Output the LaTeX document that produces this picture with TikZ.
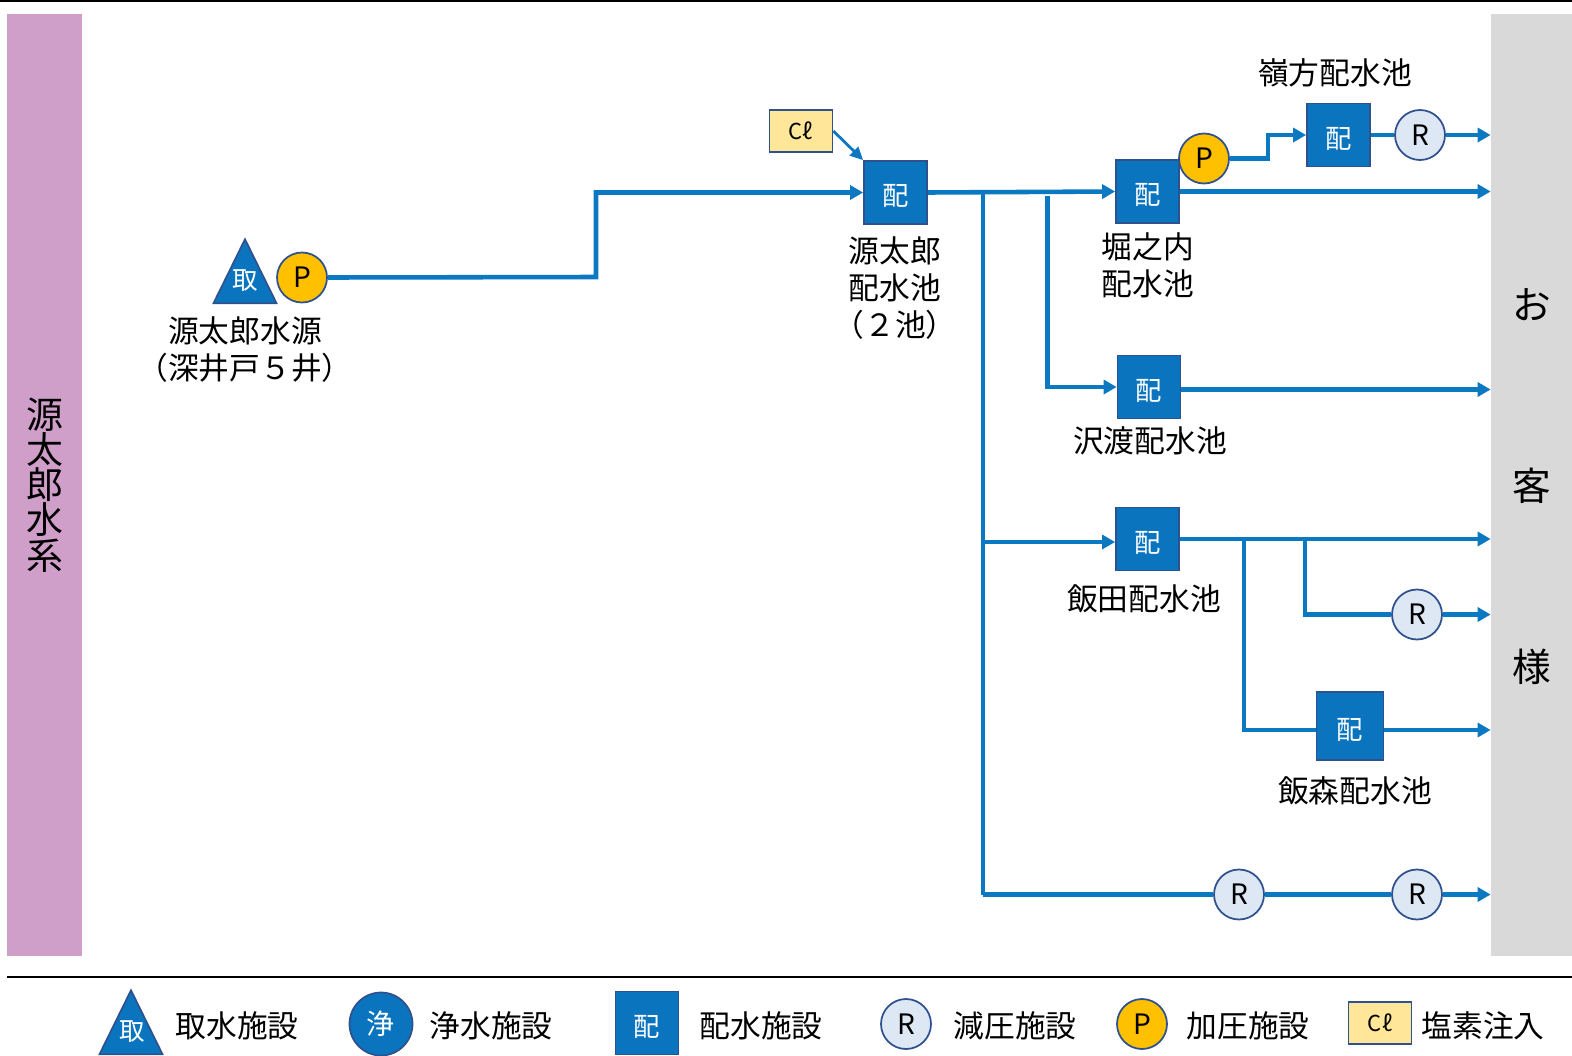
\documentclass[tikz,border=0pt]{standalone}
\usepackage{fontspec}
\setmainfont{Noto Sans CJK JP}
\usetikzlibrary{arrows.meta, positioning, shapes.geometric}

\definecolor{pipeblue}{HTML}{0B78C2}
\definecolor{boxblue}{HTML}{0A75BE}
\definecolor{edgeblue}{HTML}{2F528F}
\definecolor{bandpink}{HTML}{CF9FC9}
\definecolor{bandgray}{HTML}{D9D9D9}
\definecolor{pumpyellow}{HTML}{FFC000}
\definecolor{valveblue}{HTML}{DEE8F5}
\definecolor{chlorine}{HTML}{FFE699}
\setlength{\lineskiplimit}{-10pt}

\begin{document}
\begin{tikzpicture}[
    x=0.02cm, y=-0.02cm,
    pipe/.style={draw=pipeblue, line width=2.6pt},
    flow/.style={pipe, -{Triangle[length=0.26cm, width=0.28cm]}},
    dist node/.style={rectangle, draw=edgeblue, line width=1pt, fill=boxblue, text=white, minimum size=1.26cm, inner sep=0pt, text height=16pt, text depth=1pt, font=\fontsize{15}{15}\selectfont},
    pump node/.style={circle, draw=edgeblue, line width=1pt, fill=pumpyellow, minimum size=1cm, inner sep=0pt, font=\fontsize{16}{16}\selectfont},
    valve node/.style={circle, draw=edgeblue, line width=1pt, fill=valveblue, minimum size=1cm, inner sep=0pt, font=\fontsize{16}{16}\selectfont},
    clean node/.style={circle, draw=edgeblue, line width=1pt, fill=boxblue, text=white, minimum size=1.26cm, inner sep=0pt, font=\fontsize{16}{16}\selectfont},
    cl node/.style={rectangle, draw=edgeblue, line width=1pt, fill=chlorine, minimum width=1.26cm, minimum height=0.84cm, inner sep=0pt, font=\fontsize{12.5}{12.5}\selectfont},
    intake node/.style={isosceles triangle, isosceles triangle stretches, shape border rotate=90, draw=edgeblue, line width=1pt, fill=boxblue, minimum width=1.26cm, minimum height=1.28cm, inner sep=0pt},
    intake text/.style={text=white, inner sep=0pt, font=\fontsize{14.5}{14.5}\selectfont},
    name text/.style={inner sep=0pt, align=center, font=\fontsize{17.5}{21}\selectfont},
    cust text/.style={inner sep=0pt, font=\fontsize{22}{22}\selectfont}
]
    \useasboundingbox (0,0) rectangle (1572,1055);

    % Bands and rules
    \draw[line width=1pt] (0,1) -- (1572,1);
    \draw[line width=1pt] (7,977) -- (1572,977);
    \node[fill=bandpink, minimum width=1.5cm, minimum height=18.83cm, inner sep=0pt, align=center, font=\fontsize{21}{20}\selectfont] (system) at (44.5,485) {源\\太\\郎\\水\\系};
    \node[fill=bandgray, minimum width=1.62cm, minimum height=18.83cm, inner sep=0pt] (cust) at (1531.5,485) {};
    \node[cust text] (cust1) at (1532,305) {お};
    \node[cust text] (cust2) at (1532,486) {客};
    \node[cust text] (cust3) at (1532,667) {様};

    % Source
    \node[intake node, anchor=apex] (intake) at (245,237) {};
    \node[intake text] (intaketxt) at (245.5,281) {取};
    \node[pump node] (srcpump) at (302,277.5) {P};
    \node[name text] (srcname) at (245,350) {源太郎水源\\（深井戸５井）};

    % Reservoirs
    \node[cl node] (cl) at (801,131) {Cℓ};
    \node[dist node] (genta) at (895.5,192.5) {配};
    \node[name text] (gentaname) at (895,288) {源太郎\\配水池\\（２池）};
    \node[dist node] (hori) at (1147.5,191.5) {配};
    \node[name text] (horiname) at (1148,265) {堀之内\\配水池};
    \node[pump node] (horipump) at (1204,158.5) {P};
    \node[dist node] (mine) at (1338.5,135) {配};
    \node[name text] (minename) at (1335,73) {嶺方配水池};
    \node[valve node] (minevalve) at (1420,135) {R};
    \node[dist node] (sawa) at (1149,387) {配};
    \node[name text] (sawaname) at (1150,441) {沢渡配水池};
    \node[dist node] (iida) at (1147.5,539) {配};
    \node[name text] (iidaname) at (1144,599) {飯田配水池};
    \node[valve node] (iidavalve) at (1417,614.5) {R};
    \node[dist node, minimum width=1.34cm, minimum height=1.36cm] (iimori) at (1350,726) {配};
    \node[name text] (iimoriname) at (1355,791) {飯森配水池};
    \node[valve node] (lowvalve1) at (1239,894.5) {R};
    \node[valve node] (lowvalve2) at (1417,894.5) {R};

    % Junctions
    \coordinate (srcup) at (596,277);
    \coordinate (trunktop) at (983,192);
    \coordinate (trunkiida) at (983,542);
    \coordinate (trunklow) at (983,894.5);
    \coordinate (sawatop) at (1047.5,196);
    \coordinate (pumpstep) at (1268,158.5);
    \coordinate (iidasplit1) at (1244,539);
    \coordinate (iidasplit2) at (1305,539);

    % Pipes
    \draw[flow] (srcpump.east) -- (srcup) |- (genta.west);
    \draw[draw=pipeblue, line width=1.6pt, -{Triangle[length=0.26cm, width=0.24cm]}] (cl.east) -- (genta.north west);
    \draw[flow] (genta.east) -- (hori.west);
    \draw[pipe] (trunktop) -- (trunklow);
    \draw[flow] (sawatop) |- (sawa.west);
    \draw[flow] (trunkiida) -- (trunkiida -| iida.west);
    \draw[flow] (horipump.east) -- (pumpstep) |- (mine.west);
    \draw[pipe] (mine.east) -- (minevalve.west);
    \draw[flow] (minevalve.east) -- (minevalve.east -| cust.west);
    \draw[flow] (hori.east) -- (hori.east -| cust.west);
    \draw[flow] ([yshift=-0.05cm]sawa.east) -- ([yshift=-0.05cm]sawa.east -| cust.west);
    \draw[flow] (iida.east) -- (iida.east -| cust.west);
    \draw[pipe] (iidasplit2) |- (iidavalve.west);
    \draw[flow] (iidavalve.east) -- (iidavalve.east -| cust.west);
    \draw[pipe] (iidasplit1) |- ([yshift=-0.08cm]iimori.west);
    \draw[flow] ([yshift=-0.08cm]iimori.east) -- ([yshift=-0.08cm]iimori.east -| cust.west);
    \draw[pipe] (trunklow) -- (lowvalve1.west);
    \draw[pipe] (lowvalve1.east) -- (lowvalve2.west);
    \draw[flow] (lowvalve2.east) -- (lowvalve2.east -| cust.west);

    % Legend
    \node[intake node, anchor=apex] (keyintake) at (131,988) {};
    \node[intake text] (keyintaketxt) at (132,1032) {取};
    \node[name text] (keyintakename) at (237,1026) {取水施設};
    \node[clean node] (keyclean) at (381,1024) {浄};
    \node[name text] (keycleanname) at (491,1026) {浄水施設};
    \node[dist node] (keydist) at (647,1023) {配};
    \node[name text] (keydistname) at (761,1026) {配水施設};
    \node[valve node] (keyvalve) at (906,1024) {R};
    \node[name text] (keyvalvename) at (1015,1026) {減圧施設};
    \node[pump node] (keypump) at (1142,1024) {P};
    \node[name text] (keypumpname) at (1248,1026) {加圧施設};
    \node[cl node] (keycl) at (1380,1023) {Cℓ};
    \node[name text] (keyclname) at (1483,1026) {塩素注入};
\end{tikzpicture}
\end{document}
